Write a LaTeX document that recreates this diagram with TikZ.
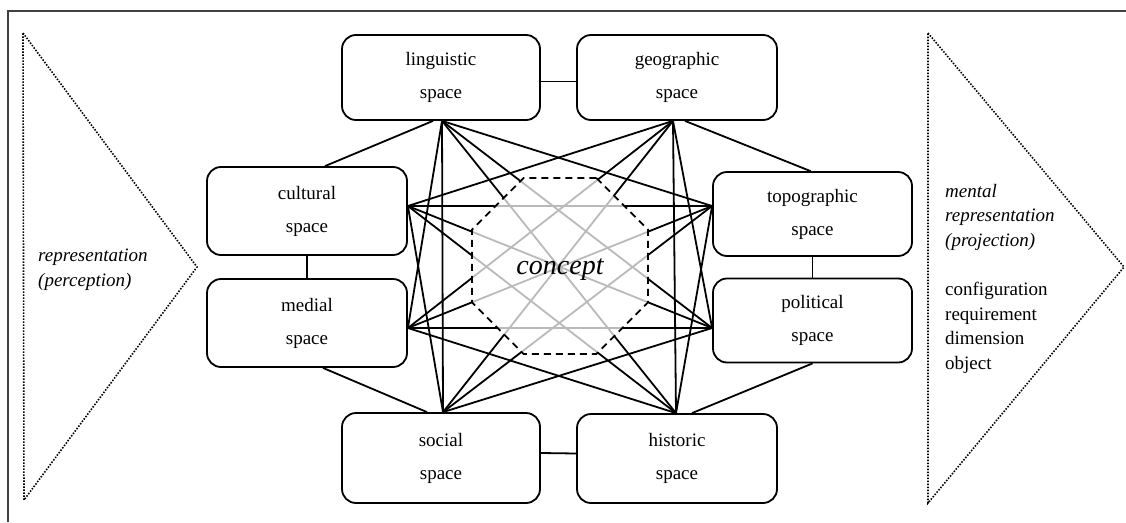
\documentclass[tikz,border=0pt]{standalone}
\usepackage{fontspec}
\setmainfont{Liberation Serif}
\usetikzlibrary{calc,shapes.geometric}
\begin{document}
\begin{tikzpicture}[x=1pt,y=-1pt,
  spacebox/.style={draw, line width=1.8pt, rounded corners=14pt, fill=white, align=center, inner sep=0pt, font=\fontsize{19}{33}\selectfont},
  link/.style={line width=1.8pt},
  glink/.style={line width=1.8pt, draw=black!27},
  tri/.style={line width=1.6pt, dash pattern=on 1.5pt off 1.5pt, draw=black},
  sidetext/.style={anchor=west, align=left, inner sep=0pt, font=\fontsize{19}{24.5}\selectfont},
]
\useasboundingbox (0,0) rectangle (1126,522);
% frame
\draw[line width=1.8pt, black!75] (8,522) -- (8,11) -- (1126,11);
% triangles
\draw[tri] (23,33) -- (197,267) -- (24,500) -- cycle;
\draw[tri] (928,33) -- (1124,267) -- (928,503) -- cycle;
% side texts
\node[sidetext, font=\fontsize{19}{25}\selectfont\itshape] (perc) at (38,270) {representation\\(perception)};
\node[sidetext, font=\fontsize{19}{24.5}\selectfont\itshape] (ment) at (945,217) {mental\\representation\\(projection)};
\node[sidetext] (conf) at (945,328) {configuration\\requirement\\dimension\\object};
% boxes
\node[spacebox, minimum width=198pt, minimum height=85pt] (ling) at (441,77.5) {linguistic\\space};
\node[spacebox, minimum width=200pt, minimum height=85pt] (geo) at (677,77.5) {geographic\\space};
\node[spacebox, minimum width=200pt, minimum height=88pt] (cul) at (307,211) {cultural\\space};
\node[spacebox, minimum width=200pt, minimum height=88pt] (med) at (307,323) {medial\\space};
\node[spacebox, minimum width=199pt, minimum height=84pt] (topo) at (812.5,214) {topographic\\space};
\node[spacebox, minimum width=199pt, minimum height=84pt] (pol) at (812.5,320.5) {political\\space};
\node[spacebox, minimum width=198pt, minimum height=90pt] (soc) at (441,458) {social\\space};
\node[spacebox, minimum width=200pt, minimum height=89pt] (hist) at (677,458.5) {historic\\space};
% anchors for cross links
\coordinate (L) at ($(ling.south)+(1,0)$);
\coordinate (G) at ($(geo.south)+(-4,0)$);
\coordinate (C) at ($(cul.east)+(0,-5)$);
\coordinate (M) at ($(med.east)+(0,5)$);
\coordinate (T) at ($(topo.west)+(0,-8)$);
\coordinate (P) at ($(pol.west)+(0,7.5)$);
\coordinate (S) at ($(soc.north)+(2,0)$);
\coordinate (H) at ($(hist.north)+(-1,0)$);
% ring links
\draw[link] ($(ling.east)+(0,4)$) -- ($(geo.west)+(0,4)$);
\draw[link] ($(geo.south)+(8,0)$) -- ($(topo.north)+(-2,0)$);
\draw[link] (topo.south) -- (pol.north);
\draw[link] (pol.south) -- ($(hist.north)+(15,0)$);
\draw[link] ($(soc.east)+(0,-5)$) -- ($(hist.west)+(0,-5)$);
\draw[link] ($(med.south)+(16,0)$) -- ($(soc.north)+(-14,0)$);
\draw[link] (cul.south) -- (med.north);
\draw[link] ($(cul.north)+(18,0)$) -- ($(ling.south)+(-8,0)$);
% cross links
\def\crosslinks{L/M,L/S,L/H,L/T,L/P,G/C,G/M,G/S,G/H,G/P,C/T,C/P,C/S,C/H,M/T,M/P,M/H,T/S,T/H,P/S}
\foreach \a/\b in \crosslinks {\draw[link] (\a) -- (\b);}
% concept octagon
\node[regular polygon, regular polygon sides=8, minimum size=190.5pt, inner sep=0pt, outer sep=0pt] (oct) at (560,266) {};
\fill[white] (oct.corner 1) -- (oct.corner 2) -- (oct.corner 3) -- (oct.corner 4) -- (oct.corner 5) -- (oct.corner 6) -- (oct.corner 7) -- (oct.corner 8) -- cycle;
\begin{scope}
\clip (oct.corner 1) -- (oct.corner 2) -- (oct.corner 3) -- (oct.corner 4) -- (oct.corner 5) -- (oct.corner 6) -- (oct.corner 7) -- (oct.corner 8) -- cycle;
\foreach \a/\b in \crosslinks {\draw[glink] (\a) -- (\b);}
\end{scope}
\draw[line width=1.8pt, dash pattern=on 7pt off 5pt] (oct.corner 1) -- (oct.corner 2) -- (oct.corner 3) -- (oct.corner 4) -- (oct.corner 5) -- (oct.corner 6) -- (oct.corner 7) -- (oct.corner 8) -- cycle;
\node[font=\fontsize{28}{30}\selectfont\itshape, inner sep=0pt] (concept) at (560,270) {concept};
\end{tikzpicture}
\end{document}
